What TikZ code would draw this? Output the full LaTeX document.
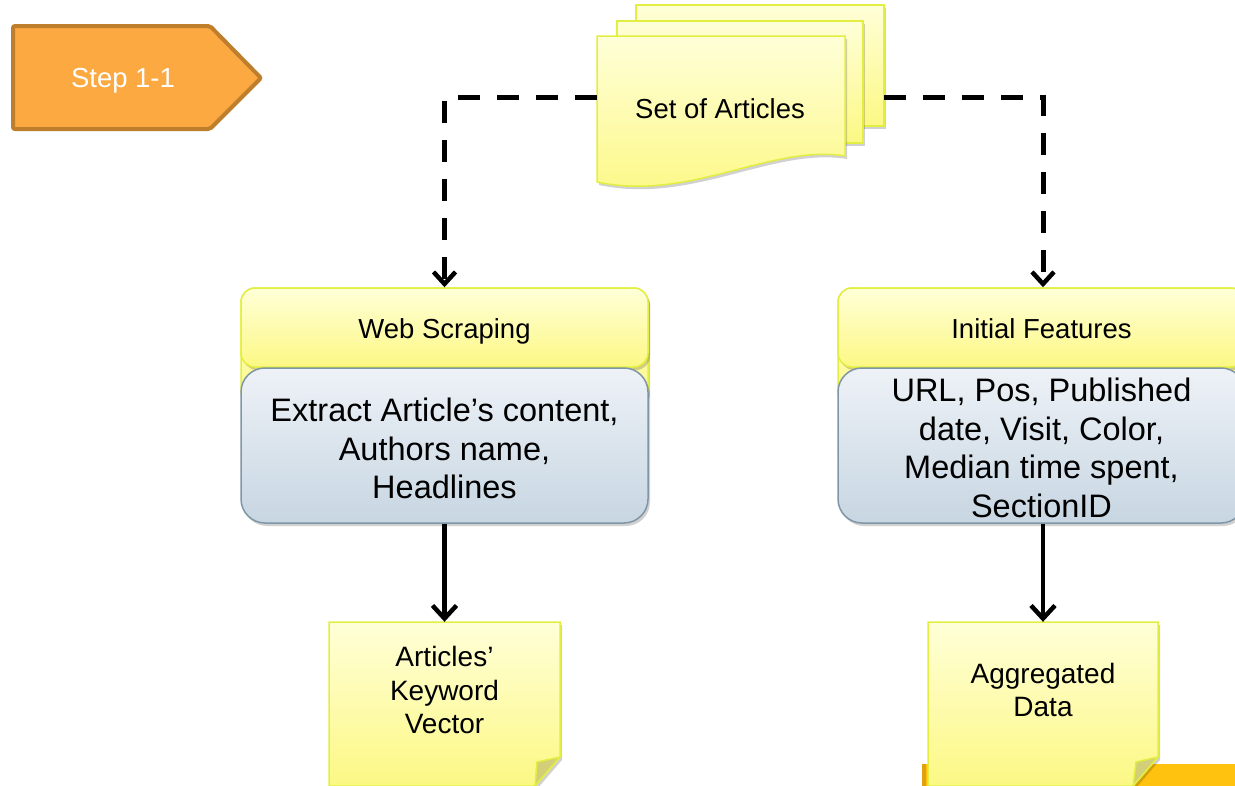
\documentclass[tikz,border=0pt]{standalone}
\usepackage{fontspec}
\setmainfont{Liberation Sans}
\usetikzlibrary{arrows.meta,shadows,calc}

\definecolor{stepfill}{HTML}{FBA940}
\definecolor{stepline}{HTML}{BF7E2C}
\definecolor{ylwline}{HTML}{E2EE40}
\definecolor{ylwtop}{HTML}{FFFFD8}
\definecolor{ylwbot}{HTML}{FCF884}
\definecolor{bluetop}{HTML}{EEF2F7}
\definecolor{bluebot}{HTML}{C7D6E2}
\definecolor{blueline}{HTML}{7F96A6}
\definecolor{foldfill}{HTML}{D3CF78}
\definecolor{barfill}{HTML}{FFC20E}
\definecolor{baredge}{HTML}{E0A210}

\begin{document}
\begin{tikzpicture}[x=1pt,y=-1pt,
  shadowed/.style={drop shadow={opacity=0.18, fill=black, shadow xshift=2pt, shadow yshift=-3pt}},
  ylwshape/.style={draw=ylwline, line width=1.5pt, top color=ylwtop, bottom color=ylwbot, shadowed},
  hdrfont/.style={font=\fontsize{27.5}{33}\selectfont},
  notefont/.style={font=\fontsize{28}{33.5}\selectfont, align=center},
  bodyfont/.style={font=\fontsize{32.5}{38.5}\selectfont, align=center},
  hdrbox/.style={ylwshape, rounded corners=14pt, minimum width=407pt, minimum height=79pt, inner sep=0pt},
  bodybox/.style={draw=blueline, line width=1.5pt, top color=bluetop, bottom color=bluebot, shadowed,
     rounded corners=24pt, minimum width=407pt, minimum height=155pt, inner sep=0pt},
  anchorbox/.style={draw=none, inner sep=0pt},
  dashconn/.style={draw=black, line width=5pt, dash pattern=on 22pt off 17pt,
     -{Straight Barb[length=12pt,width=22pt,line width=4.5pt]}},
  solidconn/.style={draw=black, line width=4.5pt,
     -{Straight Barb[length=13pt,width=24pt,line width=4.5pt]}}
]
\useasboundingbox (0,0) rectangle (1235,785);
\clip (0,0) rectangle (1235,785);

% Step label
\path[draw=stepline, line width=4pt, fill=stepfill, rounded corners=2pt]
  (13,26) -- (210,26) -- (261,78) -- (210,129) -- (13,129) -- cycle;
\node[hdrfont, text=white, anchor=base] (step) at (123,87) {Step 1-1};

% Set of articles (multi-document)
\node[anchorbox, minimum width=248pt, minimum height=121pt] (docback) at (760,65.5) {};
\node[anchorbox, minimum width=246pt, minimum height=122pt] (docmid) at (740,82) {};
\node[anchorbox, minimum width=248pt, minimum height=122pt] (docs) at (721,97) {};
\path[ylwshape] (636,5) rectangle (884,126);
\path[ylwshape] (617,21) rectangle (863,143);
\path[ylwshape] (597,36) -- (845,36) -- (845,156)
  .. controls (770,144) and (690,202) .. (597,182) -- cycle;
\node[hdrfont, anchor=base] (doctext) at (720,118) {Set of Articles};

% Bar behind right note
\fill[barfill] (922,764) rectangle (1245,790);
\fill[baredge] (922,764) rectangle (926,790);

% Web scraping box
\path[ylwshape, rounded corners=14pt] (241,288) rectangle (648,405);
\node[hdrbox] (webhead) at (444.5,327.5) {};
\node[hdrfont, anchor=base] (webheadtext) at (444.5,338) {Web Scraping};
\node[bodybox] (webbody) at (444.5,445.5) {};
\node[bodyfont] (webtext) at (444.5,448.5) {Extract Article’s content,\\Authors name,\\Headlines};

% Initial features box
\path[ylwshape, rounded corners=14pt] (838,288) rectangle (1245,405);
\node[hdrbox] (inithead) at (1041.5,327.5) {};
\node[hdrfont, anchor=base] (initheadtext) at (1041.5,338) {Initial Features};
\node[bodybox] (initbody) at (1041.5,445.5) {};
\node[bodyfont] (inittext) at (1041.5,448) {URL, Pos, Published\\date, Visit, Color,\\Median time spent,\\SectionID};

% Sticky notes
\node[anchorbox, minimum width=231pt, minimum height=163pt] (kwnote) at (444.5,703.5) {};
\path[ylwshape] (329,622) -- (560,622) -- (560,757) -- (535,786) -- (329,786) -- cycle;
\path[draw=ylwline, line width=1.5pt, fill=foldfill] (560,757) -- (537,762) -- (535,786) -- cycle;
\node[notefont] (kwtext) at (444.5,690) {Articles’\\Keyword\\Vector};

\node[anchorbox, minimum width=230pt, minimum height=163pt] (aggnote) at (1043,703.5) {};
\path[ylwshape] (928,622) -- (1158,622) -- (1158,757) -- (1133,786) -- (928,786) -- cycle;
\path[draw=ylwline, line width=1.5pt, fill=foldfill] (1158,757) -- (1136,762) -- (1133,786) -- cycle;
\node[notefont] (aggtext) at (1043,690) {Aggregated\\Data};

% Connectors
\draw[dashconn] (docs.west) -| (webhead.north);
\draw[dashconn] (docs.west -| docback.east) -| (aggnote.north |- inithead.north);
\draw[solidconn] (webbody.south) -- (kwnote.north);
\draw[solidconn] (aggnote.north |- initbody.south) -- (aggnote.north);
\end{tikzpicture}
\end{document}
